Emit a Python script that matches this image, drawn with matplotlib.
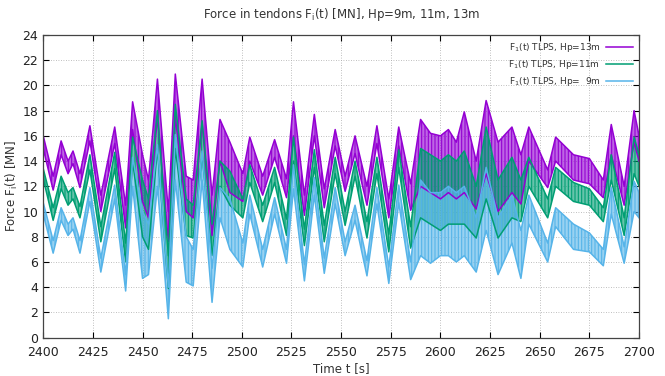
import matplotlib.pyplot as plt

# key times of the slow wave (peaks / troughs), s
t = [2400, 2405, 2409, 2412.5, 2415, 2418.5, 2423.5, 2429, 2436, 2441.5,
     2445, 2450, 2453, 2457.5, 2463, 2466.5, 2472, 2475.5, 2480, 2485,
     2489, 2494, 2500.5, 2504, 2510.5, 2516.5, 2522.5, 2526, 2531.5, 2536.5,
     2541.5, 2547, 2552, 2557, 2563, 2568, 2574, 2579, 2585, 2590,
     2595, 2600, 2604, 2608, 2612, 2618, 2623, 2629, 2636, 2640.5,
     2644.5, 2654, 2658, 2667, 2675, 2682, 2686, 2692.5, 2697.5, 2700]

# upper / lower envelope of the force, MN
hp13_hi = [16.0, 12.8, 15.6, 14.0, 14.8, 13.0, 16.8, 11.3, 16.7, 10.5,
           18.7, 14.5, 12.5, 20.5, 10.0, 20.9, 12.8, 12.5, 20.5, 11.3,
           17.3, 15.5, 13.0, 15.9, 12.8, 15.7, 12.6, 18.7, 11.3, 17.7,
           11.8, 16.5, 12.8, 16.0, 12.0, 16.8, 11.0, 16.7, 12.2, 17.3,
           16.2, 16.0, 16.5, 15.5, 17.9, 14.0, 18.8, 15.5, 16.7, 14.5,
           16.7, 13.3, 15.9, 14.5, 14.2, 12.5, 16.9, 12.0, 18.0, 16.0]
hp13_lo = [15.0, 11.7, 14.5, 13.0, 13.8, 11.9, 15.6, 10.0, 15.4, 8.7,
           16.5, 10.8, 9.5, 17.5, 7.6, 17.5, 10.0, 9.5, 17.0, 8.1,
           14.0, 11.5, 10.8, 14.0, 11.3, 14.3, 11.1, 16.0, 9.7, 16.0,
           10.3, 15.2, 11.6, 14.6, 10.5, 15.4, 9.5, 15.2, 10.1, 12.0,
           11.5, 11.0, 11.5, 11.0, 11.5, 10.2, 13.0, 10.0, 11.5, 10.6,
           14.0, 11.9, 14.0, 12.5, 12.2, 11.1, 14.5, 10.5, 15.5, 14.0]

hp11_hi = [13.4, 10.3, 12.8, 11.5, 11.9, 10.4, 14.5, 8.8, 14.7, 7.5,
           15.9, 12.5, 11.0, 18.0, 6.5, 18.5, 11.0, 10.5, 17.2, 9.0,
           14.0, 13.2, 11.0, 13.7, 10.5, 13.5, 9.4, 15.9, 8.6, 14.9,
           8.9, 14.3, 10.0, 14.0, 9.2, 14.3, 8.2, 14.9, 8.8, 15.0,
           14.5, 14.0, 14.5, 14.0, 14.8, 12.0, 16.7, 12.5, 14.3, 12.5,
           14.3, 11.0, 13.5, 12.3, 11.8, 10.3, 14.5, 9.5, 15.9, 14.5]
hp11_lo = [12.6, 9.3, 11.8, 10.5, 11.0, 9.5, 13.3, 7.6, 13.4, 6.0,
           14.0, 8.0, 7.0, 15.0, 3.9, 15.0, 8.1, 7.9, 14.5, 6.5,
           12.0, 10.5, 9.5, 12.3, 9.2, 12.3, 8.1, 14.0, 7.3, 13.5,
           7.6, 13.0, 8.9, 12.8, 7.9, 13.0, 6.8, 13.5, 7.1, 9.5,
           9.0, 8.5, 9.0, 9.0, 9.0, 7.9, 11.0, 7.9, 9.5, 9.2,
           12.0, 9.5, 12.0, 10.8, 10.5, 9.2, 12.5, 8.1, 13.0, 12.0]

hp9_hi = [10.7, 7.7, 10.3, 9.0, 9.5, 7.7, 11.9, 6.3, 12.1, 5.0,
          14.3, 10.0, 9.0, 15.3, 4.0, 16.1, 8.0, 7.0, 14.8, 5.5,
          11.9, 11.0, 7.5, 11.3, 7.0, 11.1, 7.0, 13.7, 5.8, 12.7,
          6.3, 11.9, 7.6, 10.5, 6.1, 11.9, 5.6, 12.1, 6.0, 12.5,
          11.5, 11.5, 12.0, 11.5, 12.0, 9.5, 13.5, 9.5, 11.3, 8.5,
          11.3, 7.5, 10.3, 9.0, 8.3, 7.0, 11.9, 7.2, 12.4, 11.5]
hp9_lo = [9.8, 6.7, 9.3, 8.1, 8.6, 6.7, 10.8, 5.2, 11.0, 3.7,
          12.0, 4.7, 5.0, 12.0, 1.5, 12.5, 4.4, 4.1, 12.5, 2.8,
          9.5, 7.0, 5.6, 9.8, 5.6, 9.8, 5.9, 11.8, 4.5, 11.3,
          5.1, 10.6, 6.5, 9.3, 4.9, 10.6, 4.3, 10.7, 4.6, 6.5,
          5.9, 6.5, 6.5, 6.0, 6.5, 5.2, 8.5, 5.0, 7.5, 4.7,
          9.0, 6.0, 8.8, 7.0, 6.8, 5.7, 9.8, 5.9, 10.0, 9.5]

labels = [r'F$_\mathregular{1}$(t) TLPS, Hp=13m',
          r'F$_\mathregular{1}$(t) TLPS, Hp=11m',
          r'F$_\mathregular{1}$(t) TLPS, Hp=  9m']
colors = ['#9400d3', '#009e73', '#56b4e9']

plt.rcParams['hatch.linewidth'] = 0.8

fig = plt.figure(figsize=(6.65, 3.76), dpi=100)
ax = fig.add_axes([0.065, 0.102, 0.896, 0.805])

series = [(hp13_hi, hp13_lo), (hp11_hi, hp11_lo), (hp9_hi, hp9_lo)]
for (hi, lo), c, lab in zip(series, colors, labels):
    # the fast ripple shows as dense vertical strokes: fill + vertical hatch
    ax.fill_between(t, lo, hi, facecolor=c, alpha=0.6, lw=0)
    ax.fill_between(t, lo, hi, facecolor='none', edgecolor=c, hatch='|||||', lw=0)
    ax.plot(t, hi, color=c, lw=1.1)
    ax.plot(t, lo, color=c, lw=1.1, label=lab)

ax.set_xlim(2400, 2700)
ax.set_ylim(0, 24)
ax.set_xticks(range(2400, 2701, 25))
ax.set_yticks(range(0, 25, 2))
ax.tick_params(direction='in', top=True, right=True, labelsize=9, length=4,
               labelcolor='#222222')
ax.tick_params(axis='x', pad=6)
ax.grid(True, linestyle=(0, (1, 2)), color='#aaaaaa', lw=0.6)
ax.set_axisbelow(True)
for s in ax.spines.values():
    s.set_color('#444444')
    s.set_linewidth(0.9)

ax.set_title(r'Force in tendons F$_\mathregular{i}$(t) [MN], Hp=9m, 11m, 13m',
             fontsize=8.5, color='#333333', pad=12)
ax.set_xlabel('Time t [s]', fontsize=8.5, color='#333333', labelpad=2)
ax.set_ylabel(r'Force F$_\mathregular{i}$(t) [MN]', fontsize=8.5, color='#333333',
              labelpad=2)

ax.legend(loc='upper right', frameon=False, fontsize=6.5, markerfirst=False,
          handlelength=3, handletextpad=0.6, labelspacing=0.45,
          borderaxespad=0.3, labelcolor='#333333')

plt.savefig('out.png', dpi=100)
